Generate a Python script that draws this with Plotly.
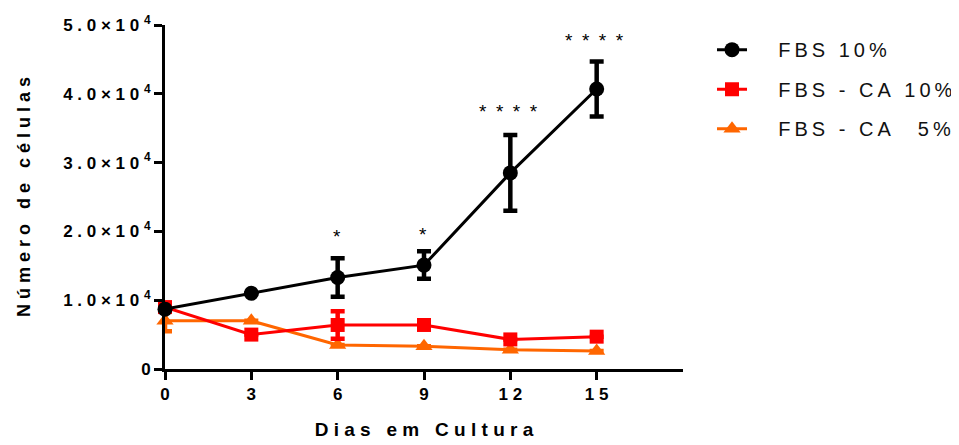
import plotly.graph_objects as go

days = [0, 3, 6, 9, 12, 15]
fbs10 = [8700, 11000, 13300, 15100, 28500, 40700]
fbs10_err = [0, 0, 2800, 2000, 5500, 4000]
ca10 = [9000, 5000, 6400, 6400, 4300, 4700]
ca10_err = [0, 0, 2000, 0, 0, 0]
ca5 = [7000, 7000, 3500, 3300, 2800, 2600]
ca5_err = [1500, 0, 0, 0, 0, 0]

y_ticks = [0, 10000, 20000, 30000, 40000, 50000]
y_ticklabels = ["0", "1.0×10", "2.0×10", "3.0×10", "4.0×10", "5.0×10"]
x_ticks = [0, 3, 6, 9, 12, 15]

sig_x = [6, 9, 12, 15]
sig_y = [19200, 19600, 37400, 47800]
sig_txt = ["*", "*", "****", "****"]

NB = "\u00a0"
TH = "\u2009"
EN = "\u2002"
FONT = "Liberation Sans, Arial, sans-serif"


def sp(s, gap=NB, wgap=None):
    if wgap is None:
        wgap = gap * 3
    out = []
    for w in s.split(" "):
        out.append(gap.join(list(w)))
    return wgap.join(out)


def ylab(t):
    if t == "0":
        return "0"
    return sp(t) + NB + "<sup>4</sup>"


series = [
    ("FBS 10%", fbs10, fbs10_err, "#000000", "circle", 15, 1),
    ("FBS - CA 10%", ca10, ca10_err, "#ff0000", "square", 14, 2),
    ("FBS - CA  5%", ca5, ca5_err, "#ff6600", "triangle-up", 15, 3),
]

fig = go.Figure()
for name, vals, err, col, sym, msize, rank in reversed(series):
    fig.add_trace(go.Scatter(
        x=days, y=vals,
        name=NB * 4 + TH + sp(name, TH, TH + NB + TH),
        mode="lines+markers",
        line=dict(color=col, width=3),
        marker=dict(color=col, symbol=sym, size=msize),
        error_y=dict(type="data", array=err, visible=True, color=col,
                     thickness=4.5, width=7),
        legendgroup=name, legendrank=rank,
        cliponaxis=False,
    ))

for xv, yv, t in zip(sig_x, sig_y, sig_txt):
    fig.add_annotation(x=xv, y=yv, text=sp(t, EN), showarrow=False,
                       xshift=-2 if len(t) > 1 else -1,
                       font=dict(family=FONT, size=19, color="black"))

fig.update_layout(
    width=951, height=437,
    paper_bgcolor="white", plot_bgcolor="white",
    margin=dict(l=157, r=276, t=17, b=76, autoexpand=False),
    font=dict(family=FONT, color="black"),
    legend=dict(x=1.056, y=0.985, xanchor="left", yanchor="top",
                font=dict(family=FONT, size=20, color="#111"),
                tracegroupgap=10.5, traceorder="grouped",
                bgcolor="rgba(0,0,0,0)"),
    xaxis=dict(range=[0, 18], tickvals=x_ticks, ticktext=[sp(str(v)) for v in x_ticks],
               showgrid=False, zeroline=False, showline=True, linecolor="black",
               linewidth=3, ticks="outside", tickwidth=3, ticklen=8, tickcolor="black",
               tickfont=dict(family=FONT, size=17, weight="bold"),
               title=dict(text=sp("Dias em Cultura"), standoff=20,
                          font=dict(family=FONT, size=19, weight="bold"))),
    yaxis=dict(range=[0, 50000], tickvals=y_ticks, ticktext=[ylab(t) for t in y_ticklabels],
               showgrid=False, zeroline=False, showline=True, linecolor="black",
               linewidth=3, ticks="outside", tickwidth=3, ticklen=8, tickcolor="black",
               tickfont=dict(family=FONT, size=17, weight="bold"),
               title=dict(text=sp("Número de células"), standoff=28,
                          font=dict(family=FONT, size=18, weight="bold"))),
)

fig.write_html("out.html")
